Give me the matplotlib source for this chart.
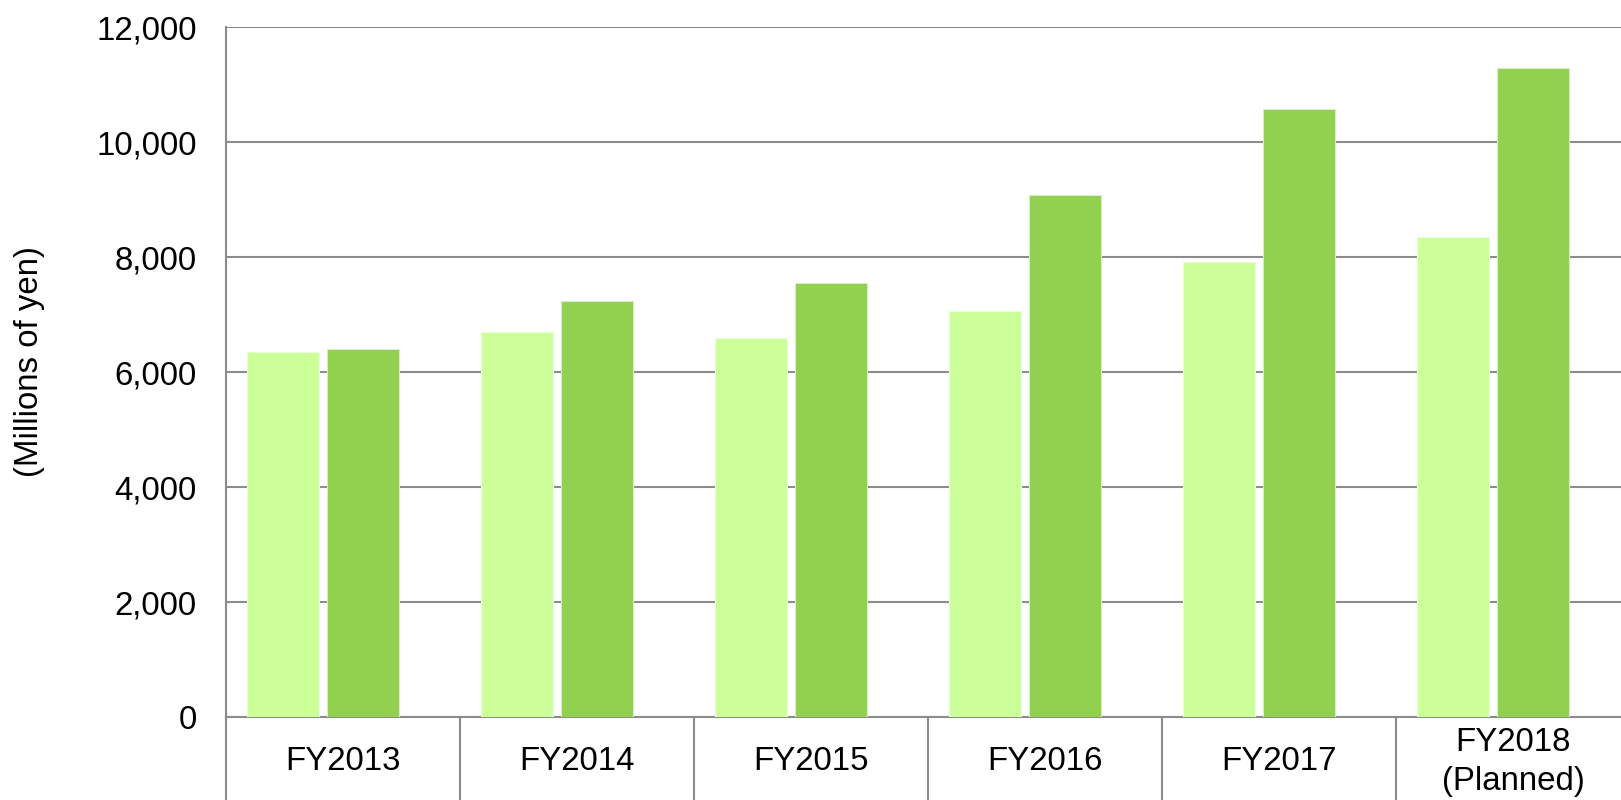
import numpy as np
import matplotlib
matplotlib.use("Agg")
import matplotlib.pyplot as plt
from matplotlib.ticker import FuncFormatter

plt.rcParams["font.family"] = ["Liberation Sans", "DejaVu Sans"]

# ---------- data ----------
CATEGORIES = ["FY2013", "FY2014", "FY2015", "FY2016", "FY2017", "FY2018\n(Planned)"]
SERIES_LIGHT = [6350, 6700, 6590, 7065, 7915, 8350]
SERIES_DARK = [6405, 7240, 7560, 9085, 10585, 11300]
Y_TICKS = [0, 2000, 4000, 6000, 8000, 10000, 12000]

LIGHT = "#CCFF99"
DARK = "#92D050"
GRID = "#8C8C8C"
FS = 23.8

fig = plt.figure(figsize=(16.21, 8.0), dpi=100)
# axes run a bit past the right edge, as in the reference crop
ax = fig.add_axes([226 / 1621, 1 - 717.3 / 800, 1404 / 1621, 690 / 800])

x = np.arange(len(CATEGORIES))
w = 0.308
ax.bar(x - 0.256, SERIES_LIGHT, width=w, color=LIGHT, edgecolor="#E8FFD8", linewidth=0.8, zorder=3)
ax.bar(x + 0.085, SERIES_DARK, width=w, color=DARK, edgecolor="#D8F0C0", linewidth=0.8, zorder=3)

ax.set_xlim(-0.5, len(CATEGORIES) - 0.5)
ax.set_ylim(0, 12000)
ax.set_yticks(Y_TICKS)
ax.yaxis.set_major_formatter(FuncFormatter(lambda v, p: f"{int(v):,}"))
ax.tick_params(axis="y", length=0, pad=21, labelsize=FS)
ax.grid(axis="y", color=GRID, linewidth=1.5, zorder=0)

# category boundaries as long downward ticks, labels at centers
ax.set_xticks(np.arange(len(CATEGORIES) + 1) - 0.5)
ax.set_xticklabels([])
ax.tick_params(axis="x", which="major", direction="out", length=62, width=1.5, color=GRID)
ax.set_xticks(x, minor=True)
ax.set_xticklabels(CATEGORIES, minor=True)
ax.tick_params(axis="x", which="minor", length=0, pad=32, labelsize=FS)
for lab in ax.get_xticklabels(minor=True):
    lab.set_verticalalignment("center")
    lab.set_linespacing(1.32)

for side in ["top", "right"]:
    ax.spines[side].set_visible(False)
ax.spines["left"].set_color(GRID)
ax.spines["left"].set_linewidth(1.5)
ax.spines["bottom"].set_color(GRID)
ax.spines["bottom"].set_linewidth(1.5)

fig.text(30 / 1621, 1 - 362 / 800, "(Millions of yen)", rotation=90,
         ha="center", va="center", fontsize=FS)

fig.savefig("out.png", dpi=100)
